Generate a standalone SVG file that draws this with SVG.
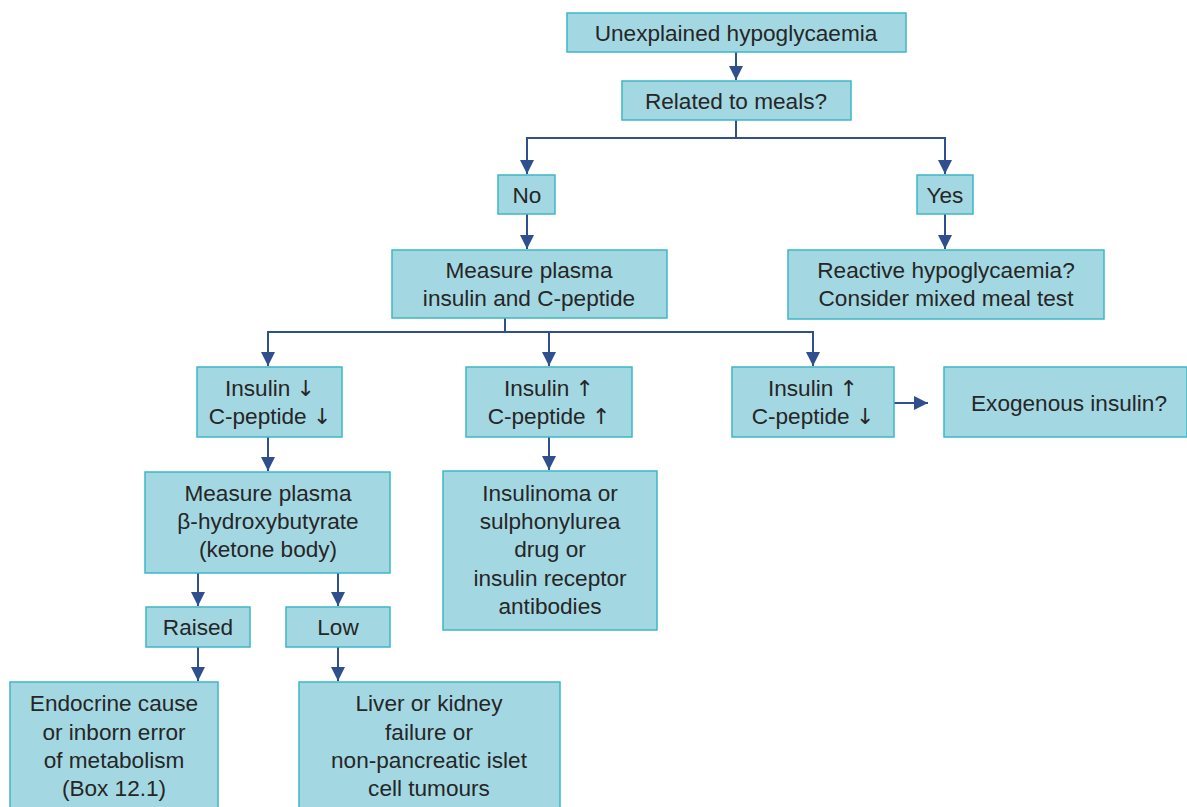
<svg xmlns="http://www.w3.org/2000/svg" width="1187" height="807" viewBox="0 0 1187 807">
<defs>
<style>
.box{fill:#a3d8e3;stroke:#3db7c8;stroke-width:1.5}
.t{font-family:"Liberation Sans",Arial,sans-serif;font-size:22.6px;fill:#262626;text-anchor:middle}
.ar{font-family:"DejaVu Sans",sans-serif;font-size:22px;fill:#262626}
.c{fill:none;stroke:#2f4f8f;stroke-width:2}
</style>
<marker id="ah" viewBox="0 0 14 14" refX="14" refY="7" markerWidth="14" markerHeight="14" markerUnits="userSpaceOnUse" orient="auto">
<path d="M0,0 L14,7 L0,14 z" fill="#2f4f8f"/>
</marker>
</defs>
<rect width="1187" height="807" fill="#ffffff"/>
<g id="connectors">
<path class="c" d="M736,52 V80" marker-end="url(#ah)"/>
<path class="c" d="M736,120 V138 H527 V174" marker-end="url(#ah)"/>
<path class="c" d="M736,138 H945 V174" marker-end="url(#ah)"/>
<path class="c" d="M527,214 V249" marker-end="url(#ah)"/>
<path class="c" d="M945,214 V249" marker-end="url(#ah)"/>
<path class="c" d="M505,318 V332 H268 V366" marker-end="url(#ah)"/>
<path class="c" d="M505,332 H813 V366" marker-end="url(#ah)"/>
<path class="c" d="M549,332 V366" marker-end="url(#ah)"/>
<path class="c" d="M894,403 H928" marker-end="url(#ah)"/>
<path class="c" d="M268,437 V471" marker-end="url(#ah)"/>
<path class="c" d="M549,437 V470" marker-end="url(#ah)"/>
<path class="c" d="M198,573 V606" marker-end="url(#ah)"/>
<path class="c" d="M338,573 V606" marker-end="url(#ah)"/>
<path class="c" d="M198,647 V681" marker-end="url(#ah)"/>
<path class="c" d="M338,647 V681" marker-end="url(#ah)"/>
</g>
<g id="n1"><rect class="box" x="567" y="13" width="339" height="39"/><text class="t" x="736" y="41">Unexplained hypoglycaemia</text></g>
<g id="n2"><rect class="box" x="622" y="81" width="229" height="39"/><text class="t" x="736" y="109">Related to meals?</text></g>
<g id="n3"><rect class="box" x="498" y="175" width="57" height="39"/><text class="t" x="527" y="203">No</text></g>
<g id="n4"><rect class="box" x="917" y="175" width="56" height="39"/><text class="t" x="945" y="203">Yes</text></g>
<g id="n5"><rect class="box" x="392" y="250" width="275" height="68"/><text class="t" x="529" y="278">Measure plasma</text><text class="t" x="529" y="306">insulin and C-peptide</text></g>
<g id="n6"><rect class="box" x="788" y="250" width="316" height="69"/><text class="t" x="946" y="278">Reactive hypoglycaemia?</text><text class="t" x="946" y="306">Consider mixed meal test</text></g>
<g id="n7"><rect class="box" x="197" y="367" width="145" height="70"/><text class="t" x="270" y="396">Insulin <tspan class="ar">↓</tspan></text><text class="t" x="270" y="424">C-peptide <tspan class="ar">↓</tspan></text></g>
<g id="n8"><rect class="box" x="466" y="367" width="166" height="70"/><text class="t" x="549" y="396">Insulin <tspan class="ar">↑</tspan></text><text class="t" x="549" y="424">C-peptide <tspan class="ar">↑</tspan></text></g>
<g id="n9"><rect class="box" x="732" y="367" width="162" height="70"/><text class="t" x="813" y="396">Insulin <tspan class="ar">↑</tspan></text><text class="t" x="813" y="424">C-peptide <tspan class="ar">↓</tspan></text></g>
<g id="n10"><rect class="box" x="944" y="367" width="243" height="70"/><text class="t" x="1069" y="411">Exogenous insulin?</text></g>
<g id="n11"><rect class="box" x="145" y="472" width="245" height="101"/><text class="t" x="268" y="501">Measure plasma</text><text class="t" x="268" y="529">β-hydroxybutyrate</text><text class="t" x="268" y="557">(ketone body)</text></g>
<g id="n12"><rect class="box" x="443" y="471" width="214" height="159"/><text class="t" x="550" y="501">Insulinoma or</text><text class="t" x="550" y="529">sulphonylurea</text><text class="t" x="550" y="557">drug or</text><text class="t" x="550" y="586">insulin receptor</text><text class="t" x="550" y="614">antibodies</text></g>
<g id="n13"><rect class="box" x="146" y="607" width="104" height="40"/><text class="t" x="198" y="635">Raised</text></g>
<g id="n14"><rect class="box" x="286" y="607" width="104" height="40"/><text class="t" x="338" y="635">Low</text></g>
<g id="n15"><rect class="box" x="10" y="682" width="208" height="130"/><text class="t" x="114" y="711">Endocrine cause</text><text class="t" x="114" y="740">or inborn error</text><text class="t" x="114" y="768">of metabolism</text><text class="t" x="114" y="796">(Box 12.1)</text></g>
<g id="n16"><rect class="box" x="299" y="682" width="261" height="130"/><text class="t" x="429" y="711">Liver or kidney</text><text class="t" x="429" y="740">failure or</text><text class="t" x="429" y="768">non-pancreatic islet</text><text class="t" x="429" y="796">cell tumours</text></g>
</svg>
